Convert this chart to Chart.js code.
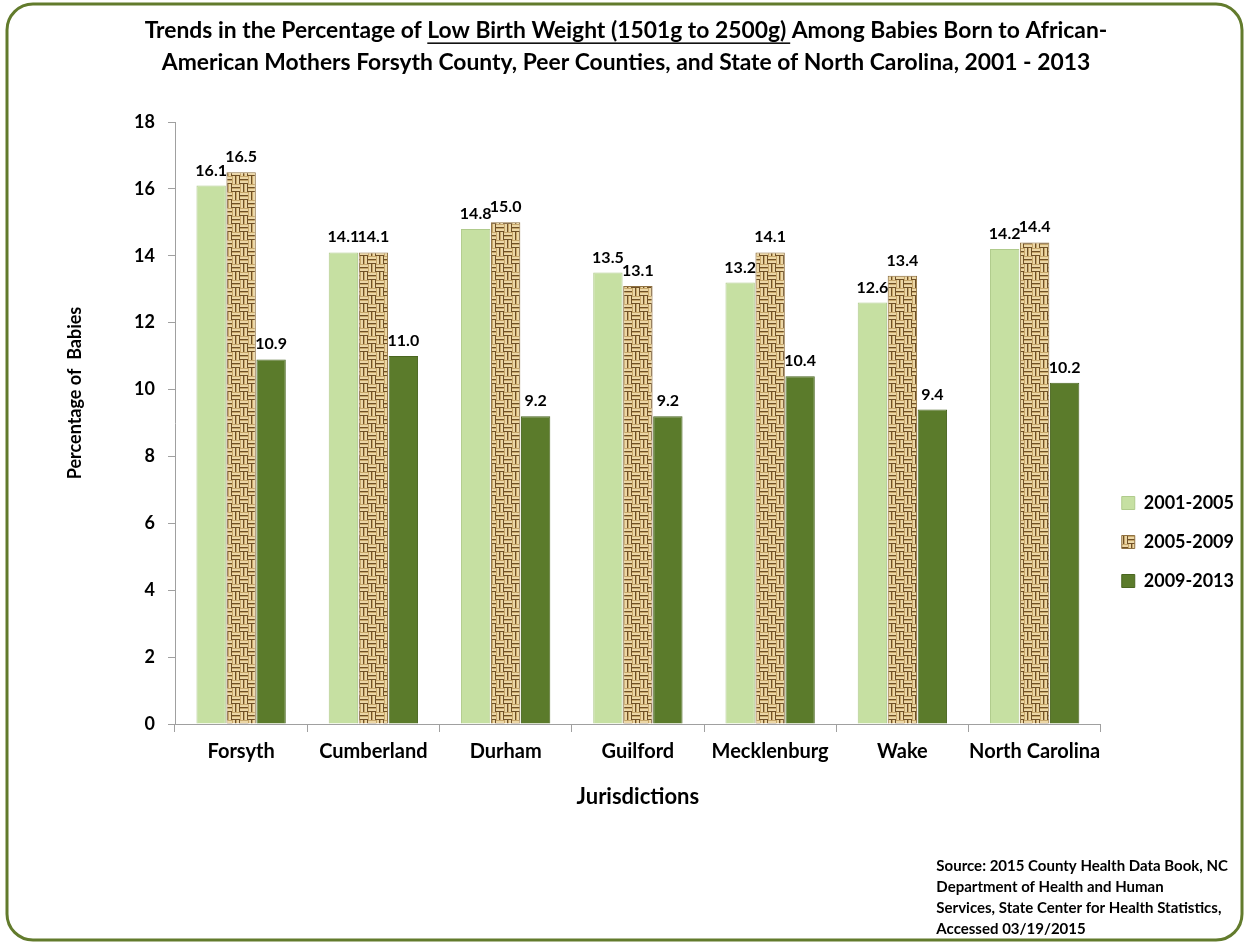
<!DOCTYPE html>
<html>
<head>
<meta charset="utf-8">
<title>Low Birth Weight - African-American Mothers</title>
<script src="https://cdn.jsdelivr.net/npm/chart.js@4.4.0/dist/chart.umd.min.js"></script>
<style>
  html, body { margin: 0; padding: 0; background: #fff; }
</style>
</head>
<body>
<canvas id="myChart" width="1249" height="946"></canvas>
<script>
var jurisdictions = ['Forsyth', 'Cumberland', 'Durham', 'Guilford', 'Mecklenburg', 'Wake', 'North Carolina'];
var period2001 = [16.1, 14.1, 14.8, 13.5, 13.2, 12.6, 14.2];
var period2005 = [16.5, 14.1, 15.0, 13.1, 14.1, 13.4, 14.4];
var period2009 = [10.9, 11.0, 9.2, 9.2, 10.4, 9.4, 10.2];
var periodNames = ['2001-2005', '2005-2009', '2009-2013'];
var yMin = 0, yMax = 18, yStep = 2;

var titlePre = 'Trends in the Percentage of ';
var titleUnderlined = 'Low Birth Weight (1501g to 2500g)';
var titlePost = ' Among Babies Born to African-';
var titleLine2 = 'American Mothers Forsyth County, Peer Counties, and State of North Carolina, 2001 - 2013';
var yTitle = 'Percentage of  Babies';
var xTitle = 'Jurisdictions';
var sourceLines = [
    'Source: 2015 County Health Data Book, NC',
    'Department of Health and Human',
    'Services, State Center for Health Statistics,',
    'Accessed 03/19/2015'
];

var FONT = 'Lato, "Open Sans", sans-serif';

// woven burlap look for the middle series
function makeWeave() {
    var c = document.createElement('canvas');
    c.width = 16; c.height = 16;
    var g = c.getContext('2d');
    g.fillStyle = '#c7a76a';
    g.fillRect(0, 0, 16, 16);
    g.fillStyle = '#ecd7a6';
    // horizontal strands in two cells, vertical in the other two
    g.fillRect(0, 1, 8, 2); g.fillRect(0, 5, 8, 2);
    g.fillRect(8, 9, 8, 2); g.fillRect(8, 13, 8, 2);
    g.fillRect(9, 0, 2, 8); g.fillRect(13, 0, 2, 8);
    g.fillRect(1, 8, 2, 8); g.fillRect(5, 8, 2, 8);
    g.fillStyle = '#6f5026';
    g.fillRect(0, 3, 8, 1); g.fillRect(0, 7, 8, 1);
    g.fillRect(8, 11, 8, 1); g.fillRect(8, 15, 8, 1);
    g.fillRect(11, 0, 1, 8); g.fillRect(15, 0, 1, 8);
    g.fillRect(3, 8, 1, 8); g.fillRect(7, 8, 1, 8);
    return g.createPattern(c, 'repeat');
}

var weave = makeWeave();

// border, title, y title and source text
const frame = {
    id: 'frame',
    beforeDraw: function(chart) {
        var ctx = chart.ctx;
        ctx.save();
        ctx.fillStyle = '#fff';
        ctx.fillRect(0, 0, chart.width, chart.height);
        ctx.beginPath();
        ctx.roundRect(7, 4, 1235, 936, 26);
        ctx.lineWidth = 3;
        ctx.strokeStyle = '#627b2c';
        ctx.stroke();
        ctx.restore();
    },
    afterDraw: function(chart) {
        var ctx = chart.ctx;
        ctx.save();
        ctx.fillStyle = '#000';
        ctx.textBaseline = 'middle';

        // title, first line sized to the reference width
        var size = 22;
        ctx.font = 'bold ' + size + 'px ' + FONT;
        var full = ctx.measureText(titlePre + titleUnderlined + titlePost).width;
        size = size * 963 / full;
        ctx.font = 'bold ' + size.toFixed(2) + 'px ' + FONT;
        var w1 = ctx.measureText(titlePre).width;
        var w2 = ctx.measureText(titleUnderlined).width;
        var w3 = ctx.measureText(titlePost).width;
        var x = 626 - (w1 + w2 + w3) / 2;
        var y = 31;
        ctx.textAlign = 'left';
        ctx.fillText(titlePre, x, y);
        ctx.fillText(titleUnderlined, x + w1, y);
        ctx.fillText(titlePost, x + w1 + w2, y);
        ctx.fillRect(x + w1, y + size * 0.5, w2 + 4, 1.5);
        ctx.textAlign = 'center';
        ctx.fillText(titleLine2, 626, 63);

        // y axis title
        ctx.save();
        ctx.translate(75, 393);
        ctx.rotate(-Math.PI / 2);
        ctx.font = 'bold 18px ' + FONT;
        ctx.fillText(yTitle, 0, 0);
        ctx.restore();

        // source note
        ctx.font = 'bold 15px ' + FONT;
        ctx.textAlign = 'left';
        var sx = 1228 - ctx.measureText(sourceLines[0]).width;
        for (var i = 0; i < sourceLines.length; i++) {
            ctx.fillText(sourceLines[i], sx, 866 + i * 21);
        }
        ctx.restore();
    }
};

// value above each bar
const barValues = {
    id: 'barValues',
    afterDatasetsDraw: function(chart) {
        var ctx = chart.ctx;
        ctx.save();
        ctx.font = 'bold 16px ' + FONT;
        ctx.fillStyle = '#000';
        ctx.textAlign = 'center';
        ctx.textBaseline = 'alphabetic';
        chart.data.datasets.forEach(function(ds, i) {
            chart.getDatasetMeta(i).data.forEach(function(bar, j) {
                ctx.fillText(ds.data[j].toFixed(1), bar.x, bar.y - 10);
            });
        });
        ctx.restore();
    }
};

const chartdata = {
    labels: jurisdictions,
    datasets: [{
            label: periodNames[0],
            backgroundColor: '#c6e0a2',
            borderColor: '#b0cb8c',
            borderWidth: 1,
            data: period2001
        },
        {
            label: periodNames[1],
            backgroundColor: weave,
            borderColor: '#8f7141',
            borderWidth: 1,
            data: period2005
        },
        {
            label: periodNames[2],
            backgroundColor: '#5b7b2b',
            borderColor: '#4a6620',
            borderWidth: 1,
            data: period2009
        }
    ]
};

const config = {
    type: 'bar',
    data: chartdata,
    plugins: [frame, barValues],
    options: {
        responsive: false,
        animation: false,
        devicePixelRatio: 1,
        datasets: {
            bar: { categoryPercentage: 0.68, barPercentage: 0.98 }
        },
        layout: {
            padding: { left: 120, right: 5, top: 122, bottom: 136 }
        },
        plugins: {
            title: { display: false },
            tooltip: { enabled: false },
            legend: {
                position: 'right',
                title: {
                    display: true,
                    text: ' ',
                    font: { size: 10 },
                    padding: { top: 140, bottom: 0 }
                },
                labels: {
                    color: '#000',
                    boxWidth: 13,
                    boxHeight: 13,
                    padding: 21,
                    font: { family: FONT, size: 18, weight: 'bold' }
                }
            }
        },
        scales: {
            x: {
                afterFit: function(scale) { scale.height = 86; },
                border: { color: '#a0a0a0' },
                grid: { drawOnChartArea: false, tickLength: 8, color: '#a0a0a0' },
                ticks: {
                    color: '#000',
                    padding: 8,
                    autoSkip: false,
                    maxRotation: 0,
                    font: { family: FONT, size: 20, weight: 'bold' }
                },
                title: {
                    display: true,
                    text: xTitle,
                    color: '#000',
                    padding: { top: 20, bottom: 0 },
                    font: { family: FONT, size: 22, weight: 'bold' }
                }
            },
            y: {
                min: yMin,
                max: yMax,
                afterFit: function(scale) { scale.width = 55; },
                border: { color: '#a0a0a0' },
                grid: { drawOnChartArea: false, tickLength: 7, color: '#a0a0a0' },
                ticks: {
                    stepSize: yStep,
                    color: '#000',
                    padding: 13,
                    font: { family: FONT, size: 18, weight: 'bold' }
                }
            }
        }
    }
};

var myChart = new Chart(
    document.getElementById('myChart'),
    config
);
</script>
</body>
</html>
